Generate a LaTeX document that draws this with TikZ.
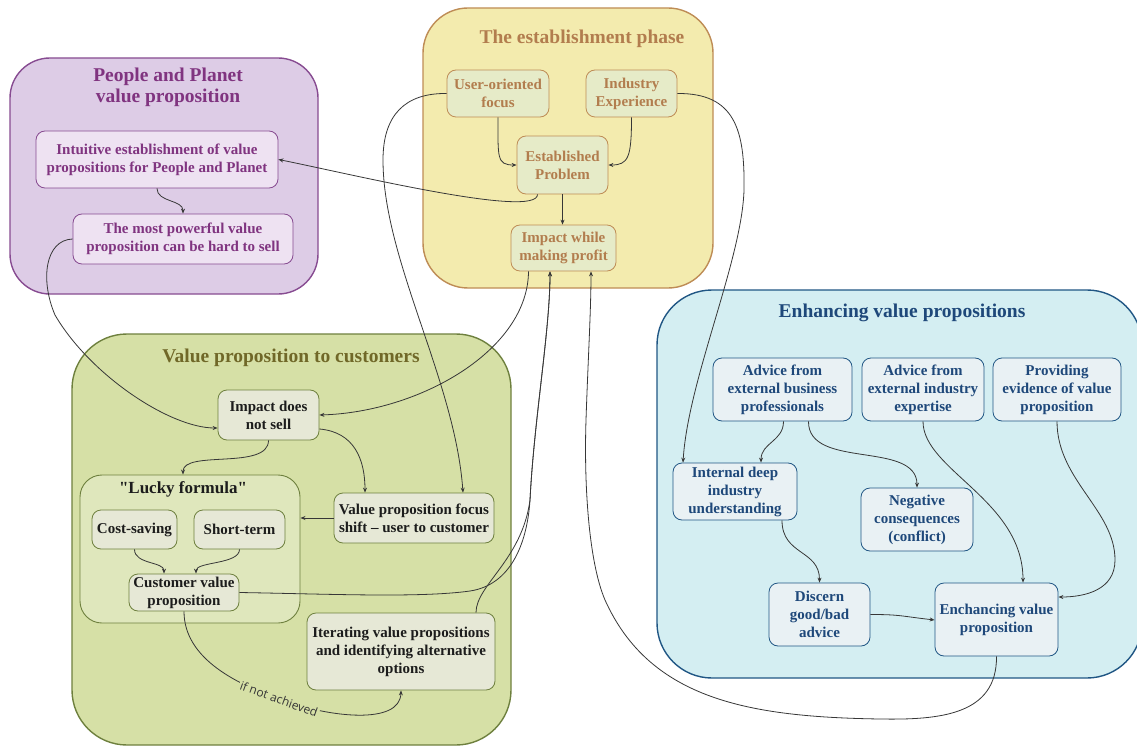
\documentclass[tikz,border=0pt]{standalone}
\usepackage{fontspec}
\setmainfont{Liberation Serif}
\newfontfamily\lblfont{Open Sans}
\usetikzlibrary{arrows.meta,calc}
\definecolor{ppfill}{RGB}{221,204,230}
\definecolor{ppdraw}{RGB}{135,75,145}
\definecolor{pptext}{RGB}{128,52,128}
\definecolor{ppnode}{RGB}{238,226,242}
\definecolor{esfill}{RGB}{243,235,174}
\definecolor{esdraw}{RGB}{190,140,85}
\definecolor{estext}{RGB}{178,125,78}
\definecolor{esnode}{RGB}{230,235,200}
\definecolor{vcfill}{RGB}{214,224,166}
\definecolor{vcdraw}{RGB}{110,128,62}
\definecolor{vctext}{RGB}{112,104,40}
\definecolor{vcnode}{RGB}{230,232,214}
\definecolor{vcntext}{RGB}{28,28,28}
\definecolor{lkfill}{RGB}{223,231,188}
\definecolor{enfill}{RGB}{212,238,242}
\definecolor{endraw}{RGB}{32,86,132}
\definecolor{entext}{RGB}{30,72,122}
\definecolor{ennode}{RGB}{233,241,244}
\definecolor{lnc}{RGB}{55,55,55}
\newcommand\myNodeFont{\bfseries\fontsize{15}{18}\selectfont}
\newcommand\myTitleFont{\bfseries\fontsize{19.5}{21}\selectfont}
\tikzset{
  grp/.style={line width=1.4pt, inner sep=0pt},
  bx/.style={rounded corners=9pt, line width=0.8pt, align=center, inner sep=0pt, font=\myNodeFont},
  ttl/.style={align=center, inner sep=0pt, font=\myTitleFont},
  arr/.style={draw=lnc, line width=0.8pt, -{Stealth[length=5pt,width=4pt]}},
  ppbox/.style={bx, draw=ppdraw, fill=ppnode, text=pptext},
  esbox/.style={bx, draw=esdraw, fill=esnode, text=estext},
  vcbox/.style={bx, draw=vcdraw, fill=vcnode, text=vcntext},
  enbox/.style={bx, draw=endraw, fill=ennode, text=entext},
}
\begin{document}
\begin{tikzpicture}[x=1pt,y=-1pt]
\useasboundingbox (0,0) rectangle (1137,746);
% groups
\node[grp, draw=ppdraw, fill=ppfill, rounded corners=40pt, minimum width=308pt, minimum height=236pt] (pp) at (164,176) {};
\node[grp, draw=esdraw, fill=esfill, rounded corners=45pt, minimum width=290pt, minimum height=280pt] (es) at (568,148) {};
\node[grp, draw=vcdraw, fill=vcfill, rounded corners=55pt, minimum width=439pt, minimum height=411pt] (vc) at (291.5,539.5) {};
\node[grp, draw=endraw, fill=enfill, rounded corners=55pt, minimum width=485pt, minimum height=388pt] (en) at (899.5,484) {};
\node[grp, draw=vcdraw, fill=lkfill, line width=0.9pt, rounded corners=22pt, minimum width=220pt, minimum height=148pt] (lucky) at (190,549) {};
% titles
\node[ttl, text=pptext] (tpp) at (168,87.5) {People and Planet\\value proposition};
\node[ttl, text=estext] (tes) at (582,39) {The establishment phase};
\node[ttl, text=vctext] (tvc) at (291,358) {Value proposition to customers};
\node[ttl, text=entext] (ten) at (902,313) {Enhancing value propositions};
\node[inner sep=0pt, font=\bfseries\fontsize{17}{20}\selectfont, text=vcntext] (tlk) at (183,489) {\textquotedbl Lucky formula\textquotedbl};
% purple nodes
\node[ppbox, minimum width=242pt, minimum height=57pt] (intu) at (157,159.5) {Intuitive establishment of value\\propositions for People and Planet};
\node[ppbox, minimum width=220pt, minimum height=50pt] (power) at (183,239) {The most powerful value\\proposition can be hard to sell};
% yellow nodes
\node[esbox, minimum width=102pt, minimum height=47pt] (uof) at (498,93.5) {User-oriented\\focus};
\node[esbox, minimum width=91pt, minimum height=47pt] (iexp) at (631.5,93.5) {Industry\\Experience};
\node[esbox, minimum width=91pt, minimum height=58pt] (estp) at (562.5,165) {Established\\Problem};
\node[esbox, minimum width=105pt, minimum height=46pt] (iwmp) at (563.5,248) {Impact while\\making profit};
% green nodes
\node[vcbox, minimum width=101pt, minimum height=50pt] (idns) at (268.5,415) {Impact does\\not sell};
\node[vcbox, minimum width=85pt, minimum height=39pt] (cost) at (134.5,529.5) {Cost-saving};
\node[vcbox, minimum width=91pt, minimum height=39pt] (short) at (239.5,529.5) {Short-term};
\node[vcbox, minimum width=110pt, minimum height=37pt] (cvp) at (184,592.5) {Customer value\\proposition};
\node[vcbox, minimum width=160pt, minimum height=50pt] (vpfs) at (414,518) {Value proposition focus\\shift -- user to customer};
\node[vcbox, minimum width=188pt, minimum height=77pt] (iter) at (401,651.5) {Iterating value propositions\\and identifying alternative\\options};
% blue nodes
\node[enbox, minimum width=139pt, minimum height=63pt] (adbus) at (782.5,389.5) {Advice from\\external business\\professionals};
\node[enbox, minimum width=122pt, minimum height=63pt] (adind) at (923,389.5) {Advice from\\external industry\\expertise};
\node[enbox, minimum width=128pt, minimum height=63pt] (prov) at (1057,389.5) {Providing\\evidence of value\\proposition};
\node[enbox, minimum width=124pt, minimum height=57pt] (iddu) at (735,491.5) {Internal deep\\industry\\understanding};
\node[enbox, minimum width=112pt, minimum height=63pt] (neg) at (917,519.5) {Negative\\consequences\\(conflict)};
\node[enbox, minimum width=101pt, minimum height=63pt] (disc) at (819.5,614.5) {Discern\\good/bad\\advice};
\node[enbox, minimum width=123pt, minimum height=73pt] (evp) at (996.5,619.5) {Enchancing value\\proposition};
% merge coordinate
\coordinate (mrg) at (530,500);
% connectors: purple / yellow
\draw[arr] ([xshift=-25pt]estp.south) .. controls +(0,25) and +(70,14) .. (intu.east);
\draw[arr] (intu.south) .. controls +(0,14) and +(0,-14) .. (power.north);
\draw[arr] (power.west) .. controls (45,240) and (40,280) .. (55,315) .. controls (90,375) and (170,428) .. ([yshift=-13pt]idns.west);
\draw[arr] (uof.south) .. controls +(0,40) and +(-20,0) .. (estp.west);
\draw[arr] (iexp.south) .. controls +(0,40) and +(20,0) .. (estp.east);
\draw[arr] (estp.south) -- (estp.south |- iwmp.north);
\draw[arr] (uof.west) .. controls (405,93) and (383,115) .. (383,160) .. controls (383,260) and (455,380) .. ([xshift=49pt]vpfs.north);
\draw[arr] (iexp.east) .. controls (735,93) and (745,130) .. (744,190) .. controls (742,260) and (688,380) .. ([xshift=-52pt]iddu.north);
\draw[arr] ([xshift=-35pt]iwmp.south) .. controls (528,350) and (420,412) .. (idns.east);
% green
\draw[arr] (cvp.east) .. controls (330,594) and (420,598) .. (470,591) .. controls (510,585) and (527,545) .. (mrg) .. controls (534,420) and (550,330) .. ([xshift=-13.5pt]iwmp.south);
\draw[arr] ([xshift=75pt]iter.north) .. controls (476,585) and (522,560) .. (mrg) .. controls (534,420) and (550,330) .. ([xshift=-13.5pt]iwmp.south);
\draw[arr] (idns.south) .. controls +(0,30) and +(0,-25) .. ([xshift=-7pt]lucky.north);
\draw[arr] ([yshift=-14pt]idns.east) .. controls +(35,3) and +(0,-33) .. ([xshift=-49pt]vpfs.north);
\draw[arr] (vpfs.west) -- (lucky.east |- vpfs.west);
\draw[arr] (cost.south) .. controls +(0,15) and +(0,-12) .. ([xshift=-20pt]cvp.north);
\draw[arr] (short.south) .. controls +(0,15) and +(0,-12) .. ([xshift=12pt]cvp.north);
\draw[arr] (cvp.south) .. controls (184,660) and (240,685) .. (279,699)
  node[pos=1, sloped, fill=vcfill, inner sep=1.5pt, font=\lblfont\fontsize{12}{14}\selectfont, text=lnc] (lbl) {if not achieved}
  .. controls (330,718) and (400,725) .. (iter.south);
% blue
\draw[arr] ([xshift=1pt]adbus.south) .. controls +(0,20) and +(0,-20) .. ([xshift=26pt]iddu.north);
\draw[arr] ([xshift=26pt]adbus.south) .. controls (808,470) and (917,440) .. (neg.north);
\draw[arr] (adind.south) .. controls (923,470) and (1023,500) .. ([xshift=26.5pt]evp.north);
\draw[arr] (prov.south) .. controls (1057,480) and (1115,510) .. (1115,560) .. controls (1115,590) and (1085,597) .. ([yshift=22.5pt]evp.east);
\draw[arr] ([xshift=47pt]iddu.south) .. controls +(0,35) and +(0,-33) .. (disc.north);
\draw[arr] (disc.east) .. controls +(30,0) and +(-35,-4) .. ([yshift=-0.5pt]evp.west);
\draw[arr] (evp.south) .. controls (997,715) and (940,720) .. (880,719) .. controls (750,717) and (650,700) .. (605,600) .. controls (588,560) and (584,480) .. (586,420) .. controls (588,360) and (591,310) .. ([xshift=27.5pt]iwmp.south);
\end{tikzpicture}
\end{document}
